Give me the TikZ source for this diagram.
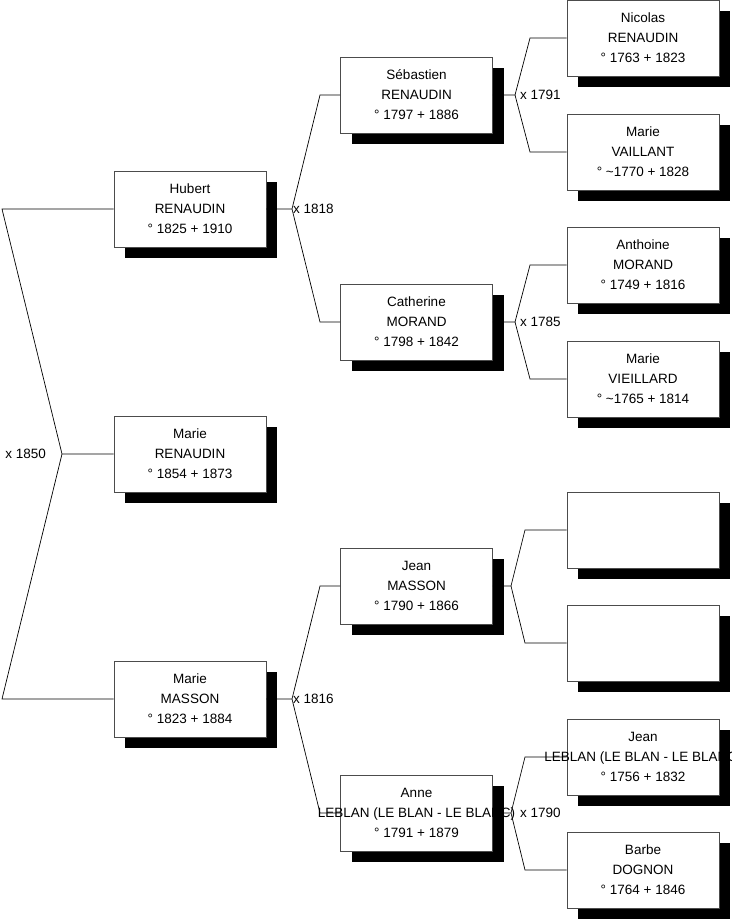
\documentclass[tikz,border=0pt]{standalone}
\usepackage{fontspec}
\setmainfont{Liberation Sans}
\usetikzlibrary{shadows, positioning}

\newcommand{\who}[3]{\makebox[0pt]{#1}\\\makebox[0pt]{#2}\\\makebox[0pt]{#3}}

\begin{document}
\begin{tikzpicture}[
		x = 1pt, y = -1pt,
		font = \fontsize{13.5}{20}\selectfont,
		person/.style = {draw = black!70, line width = .8pt, fill = white,
			minimum width = 152pt, minimum height = 76pt, align = center,
			drop shadow = {shadow xshift = 11pt, shadow yshift = -11pt, opacity = 1, fill = black}},
		link/.style = {line width = .7pt},
		wed/.style = {inner sep = 0pt}
		]
		\useasboundingbox (0,0) rectangle (731,920);
		
		% generation 1
		\node[person] (hubert) at (190,209) {\who{Hubert}{RENAUDIN}{° 1825 + 1910}};
		\node[person] (marieR) at (190,454) {\who{Marie}{RENAUDIN}{° 1854 + 1873}};
		\node[person] (marieM) at (190,699) {\who{Marie}{MASSON}{° 1823 + 1884}};
		
		% generation 2
		\node[person] (sebastien) at (416.5,95) {\who{Sébastien}{RENAUDIN}{° 1797 + 1886}};
		\node[person] (catherine) at (416.5,322) {\who{Catherine}{MORAND}{° 1798 + 1842}};
		\node[person] (jeanM) at (416.5,586) {\who{Jean}{MASSON}{° 1790 + 1866}};
		\node[person] (anne) at (416.5,813) {\who{Anne}{LEBLAN (LE BLAN - LE BLANC)}{° 1791 + 1879}};
		
		% generation 3
		\node[person] (nicolas) at (643,38) {\who{Nicolas}{RENAUDIN}{° 1763 + 1823}};
		\node[person] (marieVa) at (643,152) {\who{Marie}{VAILLANT}{° \textasciitilde1770 + 1828}};
		\node[person] (anthoine) at (643,265) {\who{Anthoine}{MORAND}{° 1749 + 1816}};
		\node[person] (marieVi) at (643,379) {\who{Marie}{VIEILLARD}{° \textasciitilde1765 + 1814}};
		\node[person] (unknownA) at (643,530) {};
		\node[person] (unknownB) at (643,643) {};
		\node[person] (jeanL) at (643,757) {\who{Jean}{LEBLAN (LE BLAN - LE BLANC)}{° 1756 + 1832}};
		\node[person] (barbe) at (643,870) {\who{Barbe}{DOGNON}{° 1764 + 1846}};
		
		% couples
		\coordinate (c1850) at (62,454);
		\coordinate (c1850h) at (2,209);
		\coordinate (c1850w) at (2,699);
		\coordinate (c1818) at (292,209);
		\coordinate (c1818h) at (320,95);
		\coordinate (c1818w) at (320,322);
		\coordinate (c1816) at (292,699);
		\coordinate (c1816h) at (320,586);
		\coordinate (c1816w) at (320,813);
		\coordinate (c1791) at (515,95);
		\coordinate (c1791h) at (530,38);
		\coordinate (c1791w) at (530,152);
		\coordinate (c1785) at (515,322);
		\coordinate (c1785h) at (530,265);
		\coordinate (c1785w) at (530,379);
		\coordinate (cJean) at (511,586);
		\coordinate (cJeanh) at (525,530);
		\coordinate (cJeanw) at (525,643);
		\coordinate (c1790) at (511,813);
		\coordinate (c1790h) at (525,757);
		\coordinate (c1790w) at (525,870);
		
		\draw[link] (hubert) -- (c1850h) -- (c1850) -- (marieR);
		\draw[link] (c1850) -- (c1850w) -- (marieM);
		\draw[link] (hubert) -- (c1818) -- (c1818h) -- (sebastien);
		\draw[link] (c1818) -- (c1818w) -- (catherine);
		\draw[link] (marieM) -- (c1816) -- (c1816h) -- (jeanM);
		\draw[link] (c1816) -- (c1816w) -- (anne);
		\draw[link] (sebastien) -- (c1791) -- (c1791h) -- (nicolas);
		\draw[link] (c1791) -- (c1791w) -- (marieVa);
		\draw[link] (catherine) -- (c1785) -- (c1785h) -- (anthoine);
		\draw[link] (c1785) -- (c1785w) -- (marieVi);
		\draw[link] (jeanM) -- (cJean) -- (cJeanh) -- (unknownA);
		\draw[link] (cJean) -- (cJeanw) -- (unknownB);
		\draw[link] (anne) -- (c1790) -- (c1790h) -- (jeanL);
		\draw[link] (c1790) -- (c1790w) -- (barbe);
		
		% Labels
		\node[wed, left = 16pt of c1850] (l1850) {x 1850};
		\node[wed, right = 1pt of c1818] (l1818) {x 1818};
		\node[wed, right = 1pt of c1816] (l1816) {x 1816};
		\node[wed, right = 5pt of c1791] (l1791) {x 1791};
		\node[wed, right = 5pt of c1785] (l1785) {x 1785};
		\node[wed, right = 9pt of c1790] (l1790) {x 1790};
	\end{tikzpicture}
\end{document}
